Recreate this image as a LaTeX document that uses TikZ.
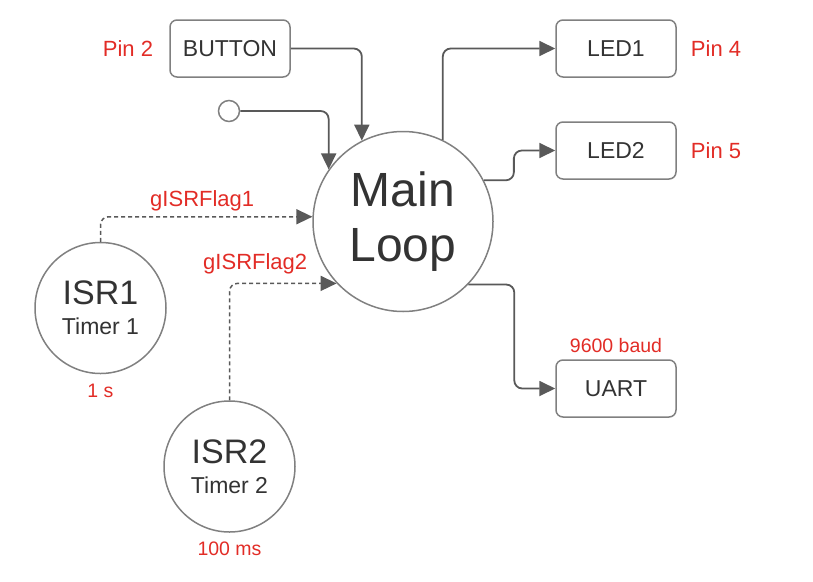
\documentclass[tikz,border=0pt]{standalone}
\usepackage{fontspec}
\setmainfont{Liberation Sans}
\usetikzlibrary{arrows.meta,positioning}
\definecolor{linegray}{RGB}{89,89,89}
\definecolor{boxgray}{RGB}{128,128,128}
\definecolor{textgray}{RGB}{51,51,51}
\definecolor{pinred}{RGB}{226,44,38}

\begin{document}
\begin{tikzpicture}[x=1pt,y=-1pt,
	box/.style={draw=boxgray,line width=1.5pt,rounded corners=7pt,minimum width=120pt,minimum height=57pt,text=textgray,font=\fontsize{23}{27}\selectfont},
	task/.style={draw=boxgray,circle,line width=1.5pt,minimum size=131pt,inner sep=0pt,align=center,text=textgray,font=\fontsize{23}{30}\selectfont},
	note/.style={text=pinred,inner sep=0pt,font=\fontsize{22}{26}\selectfont},
	small note/.style={note,font=\fontsize{19.5}{23}\selectfont},
	flow/.style={draw=linegray,line width=1.8pt,rounded corners=8pt,-{Triangle[length=16pt,width=15pt]}},
	flag/.style={flow,line width=1.5pt,dash pattern=on 4pt off 3pt}]
	\useasboundingbox (0,0) rectangle (813,581);
	\node[box] (button) at (230,48.5) {BUTTON};
	\node[box] (led1) at (616,48.5) {LED1};
	\node[box] (led2) at (616,150.5) {LED2};
	\node[box] (uart) at (616,388.5) {UART};
	\node[task,minimum size=180pt,font=\fontsize{48}{55}\selectfont] (main) at (403,221.5) {Main\\Loop};
	\node[task] (isr1) at (100.5,308) {{\fontsize{34}{30}\selectfont ISR1}\\Timer 1};
	\node[task] (isr2) at (229.5,466.5) {{\fontsize{34}{30}\selectfont ISR2}\\Timer 2};
	\node[draw=boxgray,circle,line width=1.5pt,minimum size=21pt,inner sep=0pt] (init) at (229,111) {};
	\node[note,left=16pt of button] (pin2) {Pin 2};
	\node[note,right=14pt of led1] (pin4) {Pin 4};
	\node[note,right=14pt of led2] (pin5) {Pin 5};
	\node[small note,above=6pt of uart] (baud) {9600 baud};
	\node[small note,below=10pt of isr1] (t1) {1 s};
	\node[small note,below=9pt of isr2] (t2) {100 ms};
	\draw[flow] (button.east) -| (main.117);
	\draw[flow] (init.east) -| (main.145);
	\draw[flow] (main.64) |- (led1.west);
	\draw[flow] (main.27) -- +(30,0) |- (led2.west);
	\draw[flow] (main.-44) -- +(46,0) |- (uart.west);
	\draw[flag] (isr1.north) |- (main.177) node[note,pos=0.74,above=5pt] (flag1) {gISRFlag1};
	\draw[flag] (isr2.north) |- (main.223) node[note,pos=0.62,above=8.5pt] (flag2) {gISRFlag2};
\end{tikzpicture}
\end{document}
